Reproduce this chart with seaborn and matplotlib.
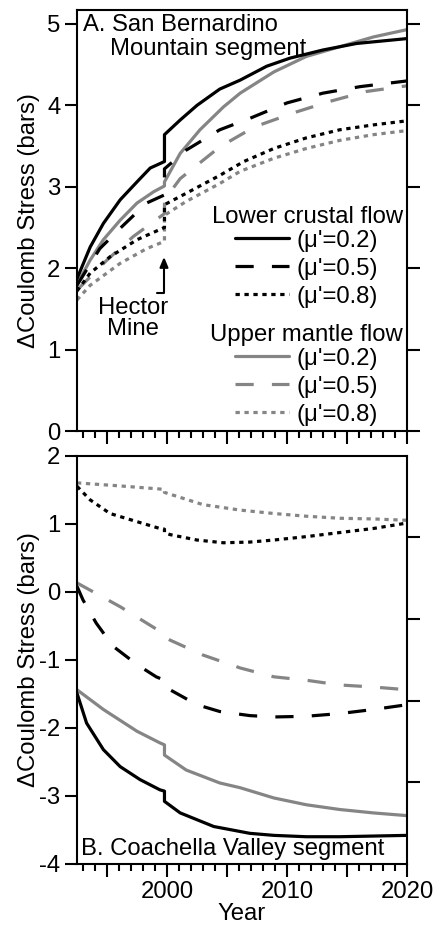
import pandas as pd
import seaborn as sns
import matplotlib.pyplot as plt
from matplotlib.lines import Line2D
from matplotlib.ticker import MultipleLocator

# Hector Mine earthquake (Oct 1999) -> vertical step in every curve
HM = 1999.79

# ---- Panel A: San Bernardino Mountain segment ----
a_lcf02_yr = [1992.5, 1993.6, 1994.7, 1996.1, 1997.5, 1998.6, HM, HM, 2001.1, 2002.5,
              2004.4, 2006.1, 2008.3, 2010.25, 2013.0, 2015.8, 2020.0]
a_lcf02 = [1.87, 2.26, 2.55, 2.84, 3.06, 3.23, 3.31, 3.64, 3.82, 4.00,
           4.20, 4.31, 4.48, 4.58, 4.68, 4.76, 4.82]

a_lcf05_yr = [1992.5, 1994.4, 1996.1, 1998.3, HM, HM, 2001.6, 2004.4, 2006.9, 2010.0,
              2013.0, 2016.1, 2020.0]
a_lcf05 = [1.79, 2.24, 2.49, 2.80, 2.90, 3.22, 3.45, 3.70, 3.84, 4.03,
           4.15, 4.23, 4.30]

a_lcf08_yr = [1992.5, 1993.6, 1995.25, 1997.5, HM, HM, 2001.6, 2004.4, 2006.4, 2008.9,
              2011.6, 2014.4, 2017.2, 2020.0]
a_lcf08 = [1.72, 1.94, 2.14, 2.35, 2.50, 2.78, 2.92, 3.14, 3.31, 3.47,
           3.60, 3.70, 3.76, 3.81]

a_umf02_yr = [1992.5, 1993.6, 1994.7, 1996.1, 1997.5, 1998.9, HM, HM, 2001.1, 2002.75,
              2004.7, 2006.1, 2008.9, 2011.6, 2014.4, 2017.2, 2020.0]
a_umf02 = [1.80, 2.10, 2.35, 2.59, 2.80, 2.94, 3.01, 3.06, 3.41, 3.70,
           3.98, 4.15, 4.41, 4.60, 4.72, 4.84, 4.93]

a_umf05_yr = [1992.5, 1995.0, 1997.2, HM, HM, 2001.1, 2004.4, 2006.4, 2007.75, 2010.8,
              2013.6, 2016.6, 2020.0]
a_umf05 = [1.73, 2.10, 2.39, 2.67, 2.84, 3.10, 3.49, 3.66, 3.76, 3.92,
           4.05, 4.17, 4.24]

a_umf08_yr = [1992.5, 1993.6, 1996.1, 1998.3, HM, HM, 2001.6, 2004.4, 2006.1, 2008.9,
              2011.6, 2014.4, 2017.2, 2020.0]
a_umf08 = [1.61, 1.79, 2.06, 2.24, 2.33, 2.65, 2.82, 3.04, 3.19, 3.35,
           3.47, 3.57, 3.64, 3.69]

# ---- Panel B: Coachella Valley segment ----
b_lcf02_yr = [1992.5, 1993.3, 1994.7, 1996.1, 1997.75, 1999.4, HM, HM, 2001.1, 2003.9,
              2006.9, 2008.9, 2011.6, 2014.4, 2017.2, 2020.0]
b_lcf02 = [-1.49, -1.93, -2.32, -2.57, -2.76, -2.91, -2.93, -3.08, -3.25, -3.45,
           -3.55, -3.58, -3.60, -3.60, -3.59, -3.58]

b_lcf05_yr = [1992.5, 1993.0, 1994.1, 1995.5, 1997.5, 1999.1, HM, HM, 2000.25, 2002.5,
              2004.4, 2006.9, 2008.9, 2011.6, 2014.4, 2017.2, 2020.0]
b_lcf05 = [0.08, -0.12, -0.46, -0.80, -1.07, -1.25, -1.30, -1.38, -1.44, -1.66,
           -1.76, -1.82, -1.84, -1.83, -1.79, -1.73, -1.66]

b_lcf08_yr = [1992.5, 1993.6, 1995.25, 1997.5, 1999.4, HM, HM, 2000.25, 2002.5, 2004.7,
              2006.9, 2008.9, 2011.6, 2014.4, 2017.2, 2020.0]
b_lcf08 = [1.55, 1.35, 1.15, 1.03, 0.93, 0.92, 0.87, 0.84, 0.76, 0.72,
           0.73, 0.76, 0.81, 0.87, 0.93, 1.01]

b_umf02_yr = [1992.5, 1994.7, 1997.5, 1999.4, HM, HM, 2001.6, 2004.4, 2006.1, 2008.9,
              2011.6, 2014.4, 2017.2, 2020.0]
b_umf02 = [-1.44, -1.73, -2.05, -2.22, -2.25, -2.40, -2.62, -2.81, -2.88, -3.03,
           -3.13, -3.20, -3.25, -3.29]

b_umf05_yr = [1992.5, 1996.1, 1999.4, HM, HM, 2000.25, 2003.0, 2006.1, 2008.9, 2011.6,
              2014.4, 2017.2, 2020.0]
b_umf05 = [0.13, -0.22, -0.58, -0.62, -0.66, -0.71, -0.93, -1.12, -1.25, -1.30,
           -1.37, -1.40, -1.44]

b_umf08_yr = [1992.5, 1996.1, 1999.4, HM, HM, 2003.0, 2006.1, 2008.9, 2011.6, 2014.4,
              2017.2, 2020.0]
b_umf08 = [1.60, 1.555, 1.51, 1.50, 1.46, 1.28, 1.20, 1.15, 1.11, 1.08,
           1.07, 1.05]

mu_labels = ["(\u03bc'=0.2)", "(\u03bc'=0.5)", "(\u03bc'=0.8)"]

GRAY = '#858585'
LW = 2.3
SOLID = '-'
DASH = (0, (5.7, 5.7))
DOT = (0, (1.35, 1.45))
styles = [SOLID, DASH, DOT]

sns.set_style('ticks', {'axes.edgecolor': 'black', 'text.color': 'black',
                        'axes.labelcolor': 'black', 'xtick.color': 'black',
                        'ytick.color': 'black'})
plt.rcParams['font.family'] = ['Liberation Sans', 'DejaVu Sans']
plt.rcParams['axes.unicode_minus'] = False
FS = 17.2

fig = plt.figure(figsize=(4.46, 9.25), dpi=100)
ax1 = fig.add_axes([0.1726, 0.534, 0.740, 0.4551])
ax2 = fig.add_axes([0.1726, 0.066, 0.740, 0.4414])


def draw(ax, yr, val, color, ls):
    sns.lineplot(x=yr, y=val, ax=ax, color=color, linewidth=LW, linestyle=ls,
                 estimator=None, sort=False, legend=False)


panel_a = [(a_lcf02_yr, a_lcf02), (a_lcf05_yr, a_lcf05), (a_lcf08_yr, a_lcf08),
           (a_umf02_yr, a_umf02), (a_umf05_yr, a_umf05), (a_umf08_yr, a_umf08)]
panel_b = [(b_lcf02_yr, b_lcf02), (b_lcf05_yr, b_lcf05), (b_lcf08_yr, b_lcf08),
           (b_umf02_yr, b_umf02), (b_umf05_yr, b_umf05), (b_umf08_yr, b_umf08)]

for ax, series in [(ax1, panel_a), (ax2, panel_b)]:
    # gray (upper mantle) first so black sits on top
    for i in [3, 4, 5, 0, 1, 2]:
        yr, val = series[i]
        draw(ax, yr, val, 'black' if i < 3 else GRAY, styles[i % 3])

# ---- axes styling ----
for ax in (ax1, ax2):
    ax.set_xlim(1992.5, 2020)
    for s in ax.spines.values():
        s.set_linewidth(1.5)
        s.set_visible(True)
    ax.xaxis.set_major_locator(MultipleLocator(5))
    ax.xaxis.set_minor_locator(MultipleLocator(1))
    ax.tick_params(axis='x', which='major', direction='out', length=9, width=1.5,
                   top=False, bottom=True, labelsize=FS, pad=3)
    ax.tick_params(axis='x', which='minor', direction='out', length=5, width=1.5,
                   top=False, bottom=True)
    ax.tick_params(axis='y', which='major', direction='out', length=9, width=1.5,
                   labelsize=FS, pad=3)
    ax.set_ylabel('\u0394Coulomb Stress (bars)', fontsize=FS)
    ax.yaxis.set_label_coords(-0.113, 0.5)
    ax.set_xlabel('')

ax1.set_ylim(0, 5.17)
ax1.set_yticks([0, 1, 2, 3, 4, 5])
ax1.tick_params(axis='y', which='major', left=True, right=True)
ax1.tick_params(axis='x', labelbottom=False)

ax2.set_ylim(-4, 2)
ax2.set_yticks([-4, -3, -2, -1, 0, 1, 2])
ax2.tick_params(axis='y', which='major', left=True, right=False)
ax2.set_yticks([2, 0.8, -0.4, -1.6, -2.8], minor=True)
ax2.tick_params(axis='y', which='minor', left=False, right=True, length=9, width=1.5)
ax2.set_xticks([1995, 2000, 2005, 2010, 2015, 2020])
ax2.set_xticklabels(['', '2000', '', '2010', '', '2020'])
ax2.set_xlabel('Year', fontsize=FS, labelpad=0)

# ---- panel titles ----
ax1.text(0.018, 0.965, 'A. San Bernardino', transform=ax1.transAxes, fontsize=FS,
         ha='left', va='center')
ax1.text(0.10, 0.908, 'Mountain segment', transform=ax1.transAxes, fontsize=FS,
         ha='left', va='center')
ax2.text(0.012, 0.037, 'B. Coachella Valley segment', transform=ax2.transAxes,
         fontsize=FS, ha='left', va='center')

# ---- Hector Mine annotation ----
ax1.text(1997.17, 1.38, 'Hector\nMine', fontsize=FS, ha='center', va='center',
         linespacing=0.95)
ax1.annotate('', xy=(1999.75, 2.14), xytext=(1999.15, 1.69),
             arrowprops=dict(arrowstyle='-|>,head_length=0.6,head_width=0.25',
                             color='black', lw=1.5, shrinkA=0, shrinkB=0,
                             connectionstyle='angle,angleA=0,angleB=90,rad=0'))

# ---- legends ----
def handles(color):
    return [Line2D([], [], color=color, lw=LW, linestyle=ls) for ls in styles]


leg_kw = dict(fontsize=FS, frameon=False, loc='upper left', borderpad=0,
              borderaxespad=0, handlelength=2.25, handletextpad=0.34,
              labelspacing=0.25)
leg1 = ax1.legend(handles('black'), mu_labels, bbox_to_anchor=(0.479, 0.478), **leg_kw)
ax1.add_artist(leg1)
ax1.legend(handles(GRAY), mu_labels, bbox_to_anchor=(0.479, 0.1978), **leg_kw)
ax1.text(0.988, 0.508, 'Lower crustal flow', transform=ax1.transAxes, fontsize=FS,
         ha='right', va='center')
ax1.text(0.988, 0.228, 'Upper mantle flow', transform=ax1.transAxes, fontsize=FS,
         ha='right', va='center')

fig.savefig('out.png', dpi=100)
